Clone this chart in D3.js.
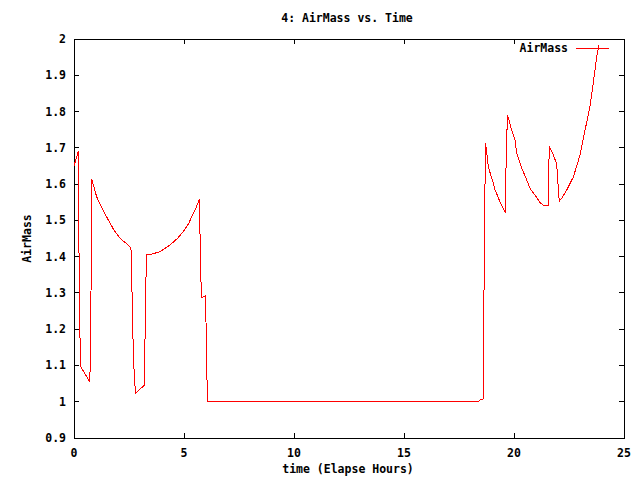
<!DOCTYPE html>
<html>
<head>
<meta charset="utf-8">
<script src="https://cdn.jsdelivr.net/npm/d3@7"></script>
<style>
  body { margin: 0; background: #fff; }
  text { font-family: "DejaVu Sans Mono", monospace; font-size: 11.5px; font-weight: bold; fill: #000; }
</style>
</head>
<body>
<div id="chart"></div>
<script>
const width = 640;
const height = 480;
const margin = { top: 39, right: 16, bottom: 42, left: 74 };

// values
const time = [
    0, 0.2, 0.21, 0.25, 0.3, 0.7, 0.72, 0.75, 0.8, 0.81, 1.03, 1.3, 1.56, 1.8, 2.09, 2.3, 2.47, 2.59,
    2.62, 2.66, 2.7, 2.75, 2.8, 3.2, 3.22, 3.26, 3.3, 3.6, 3.91, 4.36, 4.7, 4.97, 5.2, 5.35, 5.55, 5.7,
    5.72, 5.76, 5.8, 5.98, 6.0, 6.04, 6.08, 18.38, 18.49, 18.6, 18.62, 18.66, 18.7, 18.74, 18.83, 19.06,
    19.14, 19.33, 19.6, 19.62, 19.66, 19.7, 19.76, 19.89, 20.05, 20.12, 20.35, 20.58, 20.73, 20.95, 21.18,
    21.33, 21.56, 21.58, 21.6, 21.79, 21.94, 21.98, 22.02, 22.06, 22.17, 22.4, 22.7, 23.0, 23.23, 23.45,
    23.6, 23.76, 23.87
];
const airMass = [
    1.65, 1.691, 1.54, 1.245, 1.097, 1.057, 1.057, 1.15, 1.48, 1.613, 1.565, 1.53, 1.501, 1.475, 1.451, 1.44, 1.432, 1.423,
    1.358, 1.23, 1.13, 1.059, 1.023, 1.046, 1.138, 1.313, 1.405, 1.408, 1.414, 1.432, 1.45, 1.469, 1.49, 1.51, 1.535, 1.558,
    1.49, 1.35, 1.287, 1.292, 1.22, 1.07, 1.0, 1.0, 1.006, 1.008, 1.2, 1.45, 1.713, 1.699, 1.648, 1.602,
    1.584, 1.556, 1.521, 1.6, 1.7, 1.79, 1.781, 1.749, 1.722, 1.685, 1.644, 1.611, 1.588, 1.57, 1.549,
    1.542, 1.54, 1.62, 1.705, 1.68, 1.655, 1.62, 1.58, 1.553, 1.561, 1.584, 1.62, 1.68, 1.749, 1.813,
    1.878, 1.951, 1.985
];
const xTicks = [0, 5, 10, 15, 20, 25];
const yTicks = [0.9, 1, 1.1, 1.2, 1.3, 1.4, 1.5, 1.6, 1.7, 1.8, 1.9, 2];

const data = time.map((t, i) => ({ t: t, a: airMass[i] }));

const x = d3.scaleLinear().domain([0, 25]).range([margin.left, width - margin.right]);
const y = d3.scaleLinear().domain([0.9, 2]).range([height - margin.bottom, margin.top]);

const svg = d3.select("#chart").append("svg")
    .attr("width", width)
    .attr("height", height);

const tickLen = 5;
const x0 = margin.left, x1 = width - margin.right;
const y0 = height - margin.bottom, y1 = margin.top;

// ticks, mirrored on all four sides (gnuplot style)
const ticks = svg.append("g").attr("stroke", "#000").attr("shape-rendering", "crispEdges");
xTicks.forEach((v) => {
    ticks.append("line").attr("x1", x(v)).attr("x2", x(v)).attr("y1", y0).attr("y2", y0 - tickLen);
    ticks.append("line").attr("x1", x(v)).attr("x2", x(v)).attr("y1", y1).attr("y2", y1 + tickLen);
});
yTicks.forEach((v) => {
    ticks.append("line").attr("x1", x0).attr("x2", x0 + tickLen).attr("y1", y(v)).attr("y2", y(v));
    ticks.append("line").attr("x1", x1).attr("x2", x1 - tickLen).attr("y1", y(v)).attr("y2", y(v));
});

svg.selectAll(".xlab").data(xTicks).enter().append("text")
    .attr("x", (d) => x(d))
    .attr("y", y0 + 19)
    .attr("text-anchor", "middle")
    .text((d) => d);

svg.selectAll(".ylab").data(yTicks).enter().append("text")
    .attr("x", x0 - 8)
    .attr("y", (d) => y(d) + 4)
    .attr("text-anchor", "end")
    .text((d) => d);

// frame
svg.append("rect")
    .attr("x", x0 + 0.5).attr("y", y1 + 0.5)
    .attr("width", x1 - x0).attr("height", y0 - y1)
    .attr("fill", "none").attr("stroke", "#000")
    .attr("shape-rendering", "crispEdges");

// the series, aliased like the gnuplot png
const line = d3.line().x((d) => x(d.t)).y((d) => y(d.a));
svg.append("path")
    .datum(data)
    .attr("d", line)
    .attr("fill", "none")
    .attr("stroke", "#ff0000")
    .attr("stroke-width", 1)
    .attr("shape-rendering", "crispEdges");

// legend
svg.append("text").attr("x", 568).attr("y", 52).attr("text-anchor", "end").text("AirMass");
svg.append("line")
    .attr("x1", 576).attr("x2", 609).attr("y1", 48.5).attr("y2", 48.5)
    .attr("stroke", "#ff0000").attr("shape-rendering", "crispEdges");

// titles
svg.append("text").attr("x", 347).attr("y", 22).attr("text-anchor", "middle").text("4: AirMass vs. Time");
svg.append("text").attr("x", 348).attr("y", 473).attr("text-anchor", "middle").text("time (Elapse Hours)");
svg.append("text")
    .attr("transform", "translate(31," + (y0 + y1) / 2 + ") rotate(-90)")
    .attr("text-anchor", "middle")
    .text("AirMass");
</script>
</body>
</html>
